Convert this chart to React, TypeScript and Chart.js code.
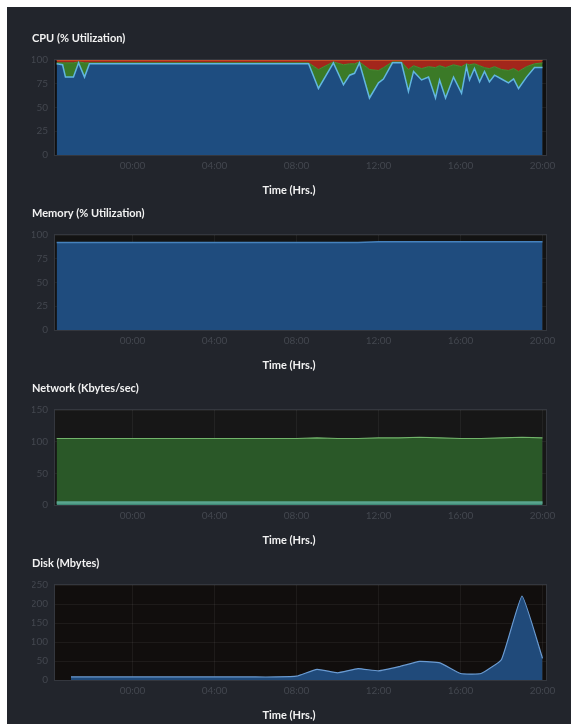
import React, { useEffect, useRef } from "react";
import { Chart, registerables } from "chart.js";

Chart.register(...registerables);

// ---------- DATA ----------
const xTickHours = [0, 4, 8, 12, 16, 20];
const xTickLabels = ["00:00", "04:00", "08:00", "12:00", "16:00", "20:00"];
const xRangeHours = [-3.78, 20.17];

const cpuHours = [
  -3.7, -3.41, -3.27, -2.88, -2.63, -2.34, -2.1, 8.59, 9.07, 9.8, 10.29, 10.59, 10.83,
  11.07, 11.56, 12.0, 12.24, 12.68, 13.12, 13.46, 13.71, 14.1, 14.44, 14.78, 14.98,
  15.27, 15.66, 16.05, 16.29, 16.44, 16.68, 16.93, 17.17, 17.41, 17.66, 18.0, 18.34,
  18.59, 18.83, 19.22, 19.61, 20.0,
];
const cpuUser = [
  96, 95, 82, 82, 97, 82, 96, 96, 70, 97, 74, 84, 86, 97, 60, 76, 80, 97, 97, 67, 88, 79,
  82, 60, 79, 60, 82, 65, 93, 79, 91, 77, 88, 77, 84, 80, 76, 80, 70, 82, 92, 92,
];
const cpuSystem = [
  1, 2, 15, 15, 1, 15, 1, 1, 20, 1, 21, 12, 10, 1, 30, 13, 12, 1, 1, 23, 6, 12, 11, 32,
  15, 32, 13, 28, 3, 16, 5, 17, 4, 14, 9, 10, 13, 11, 18, 11, 4, 5,
];
const cpuOther = [
  3, 3, 3, 3, 2, 3, 3, 3, 10, 2, 5, 4, 4, 2, 10, 11, 8, 2, 2, 10, 6, 9, 7, 8, 6, 8, 5, 7,
  4, 5, 4, 6, 8, 9, 7, 10, 11, 9, 12, 7, 4, 3,
];

const hourlyHours = [
  -3.7, -3, -2, -1, 0, 1, 2, 3, 4, 5, 6, 7, 8, 9, 10, 11, 12, 13, 14, 15, 16, 17, 18, 19, 20,
];
const memoryUsed = [
  92, 92, 92, 92, 92, 92, 92, 92, 92, 92, 92, 92, 92, 92, 92, 92, 93, 93, 93, 93, 93, 93, 93, 93, 93,
];
const netReceived = [
  105, 105, 105, 105, 105, 105, 105, 105, 105, 105, 105, 105, 105, 106, 105, 105, 106, 106, 107,
  106, 105, 105, 106, 107, 106,
];
const netSent = [
  4, 4, 4, 4, 4, 4, 4, 4, 4, 4, 4, 4, 4, 4, 4, 4, 4, 4, 4, 4, 4, 4, 4, 4, 4,
];

const diskHours = [
  -3, -2, -1, 0, 1, 2, 3, 4, 5, 6, 7, 8, 9, 10, 11, 12, 13, 14, 15, 16, 17, 18, 19, 20,
];
const diskMbytes = [
  8, 8, 8, 8, 8, 8, 8, 8, 8, 8, 8, 10, 28, 19, 30, 24, 35, 49, 45, 17, 17, 54, 221, 57,
];

// ---------- STYLE ----------
const FONT = "Lato";
const tickColor = "#43474f";
const gridColor = "rgba(255,255,255,0.055)";
const titleColor = "#f2f2f2";

const pts = (xs: number[], ys: number[]) => xs.map((x, i) => ({ x, y: ys[i] }));

const plotFrame = {
  id: "plotFrame",
  beforeDraw(chart: any, _a: any, opts: any) {
    const { ctx, chartArea: a } = chart;
    ctx.save();
    ctx.fillStyle = opts.color || "#111";
    ctx.fillRect(a.left, a.top, a.right - a.left, a.bottom - a.top);
    ctx.restore();
  },
  afterDraw(chart: any) {
    const { ctx, chartArea: a } = chart;
    ctx.save();
    ctx.strokeStyle = "#34373e";
    ctx.lineWidth = 1;
    ctx.strokeRect(a.left - 0.5, a.top - 0.5, a.right - a.left + 1, a.bottom - a.top + 1);
    ctx.restore();
  },
};

function makeOptions(title: string, yMax: number, yStep: number, bg: string, stacked: boolean) {
  return {
    animation: false,
    responsive: false,
    layout: { padding: { left: 8, right: 11, top: 0, bottom: 0 } },
    plugins: {
      legend: { display: false },
      tooltip: { enabled: false },
      title: {
        display: true,
        text: title,
        align: "start",
        color: titleColor,
        font: { family: FONT, size: 11, weight: "bold" },
        padding: { top: 4.4, bottom: 15.4 },
      },
      subtitle: {
        display: true,
        text: "Time (Hrs.)",
        position: "bottom",
        color: titleColor,
        font: { family: FONT, size: 11, weight: "bold" },
        padding: { top: 4.4, bottom: 4.4 },
      },
      plotFrame: { color: bg },
    },
    scales: {
      x: {
        type: "linear",
        min: xRangeHours[0],
        max: xRangeHours[1],
        z: 1,
        afterBuildTicks: (s: any) => {
          s.ticks = xTickHours.map((v) => ({ value: v }));
        },
        afterFit: (s: any) => {
          s.height = 24;
        },
        ticks: {
          autoSkip: false,
          maxRotation: 0,
          padding: 0,
          color: tickColor,
          font: { family: FONT, size: 10 },
          callback: (v: number) => {
            const i = xTickHours.indexOf(v);
            return i >= 0 ? xTickLabels[i] : "";
          },
        },
        grid: { color: gridColor, drawTicks: true, tickLength: 5, tickColor: "transparent" },
        border: { display: false },
      },
      y: {
        min: 0,
        max: yMax,
        stacked,
        z: 1,
        afterFit: (s: any) => {
          s.width = 23;
        },
        ticks: { stepSize: yStep, padding: 7, color: tickColor, font: { family: FONT, size: 10 } },
        grid: { color: gridColor, drawTicks: false },
        border: { display: false },
      },
    },
  };
}

const line = (extra: any) => ({ pointRadius: 0, tension: 0, ...extra });

function buildConfigs(): any[] {
  return [
    {
      type: "line",
      data: {
        datasets: [
          line({ data: pts(cpuHours, cpuUser), fill: "origin", backgroundColor: "#1e4d80", borderColor: "#62b6e0", borderWidth: 1.5 }),
          line({ data: pts(cpuHours, cpuSystem), fill: "-1", backgroundColor: "#3b7a27", borderColor: "#4a8f33", borderWidth: 1 }),
          line({ data: pts(cpuHours, cpuOther), fill: "-1", backgroundColor: "#a3261b", borderColor: "#cf5a2d", borderWidth: 1.5 }),
        ],
      },
      options: makeOptions("CPU (% Utilization)", 100, 25, "#101010", true),
      plugins: [plotFrame],
    },
    {
      type: "line",
      data: {
        datasets: [
          line({ data: pts(hourlyHours, memoryUsed), fill: "origin", backgroundColor: "#1f4c7e", borderColor: "#4682bd", borderWidth: 1.5 }),
        ],
      },
      options: makeOptions("Memory (% Utilization)", 100, 25, "#131313", false),
      plugins: [plotFrame],
    },
    {
      type: "line",
      data: {
        datasets: [
          line({ data: pts(hourlyHours, netSent), fill: "origin", backgroundColor: "#3f8a76", borderColor: "#5aa58f", borderWidth: 2.5 }),
          line({ data: pts(hourlyHours, netReceived), fill: "origin", backgroundColor: "#2a5828", borderColor: "#72b46b", borderWidth: 1.2 }),
        ],
      },
      options: makeOptions("Network (Kbytes/sec)", 150, 50, "#171717", false),
      plugins: [plotFrame],
    },
    {
      type: "line",
      data: {
        datasets: [
          line({ data: pts(diskHours, diskMbytes), fill: "origin", backgroundColor: "#204a7a", borderColor: "#6a9bd2", borderWidth: 1.2, tension: 0.12 }),
        ],
      },
      options: makeOptions("Disk (Mbytes)", 250, 50, "#110e0d", false),
      plugins: [plotFrame],
    },
  ];
}

function ChartCanvas({ config, top }: { config: any; top: number }) {
  const ref = useRef<HTMLCanvasElement | null>(null);
  useEffect(() => {
    if (!ref.current) return;
    const chart = new Chart(ref.current, config);
    return () => chart.destroy();
  }, [config]);
  return (
    <canvas
      ref={ref}
      width={533}
      height={174}
      style={{ position: "absolute", left: 17, top, width: 533, height: 174 }}
    />
  );
}

const configs = buildConfigs();

export default function App() {
  return (
    <div
      style={{
        position: "absolute",
        left: 7,
        top: 7,
        width: 564,
        height: 717,
        overflow: "hidden",
        background: "#22252c",
      }}
    >
      {configs.map((c, i) => (
        <ChartCanvas key={i} config={c} top={20 + 175 * i} />
      ))}
    </div>
  );
}
